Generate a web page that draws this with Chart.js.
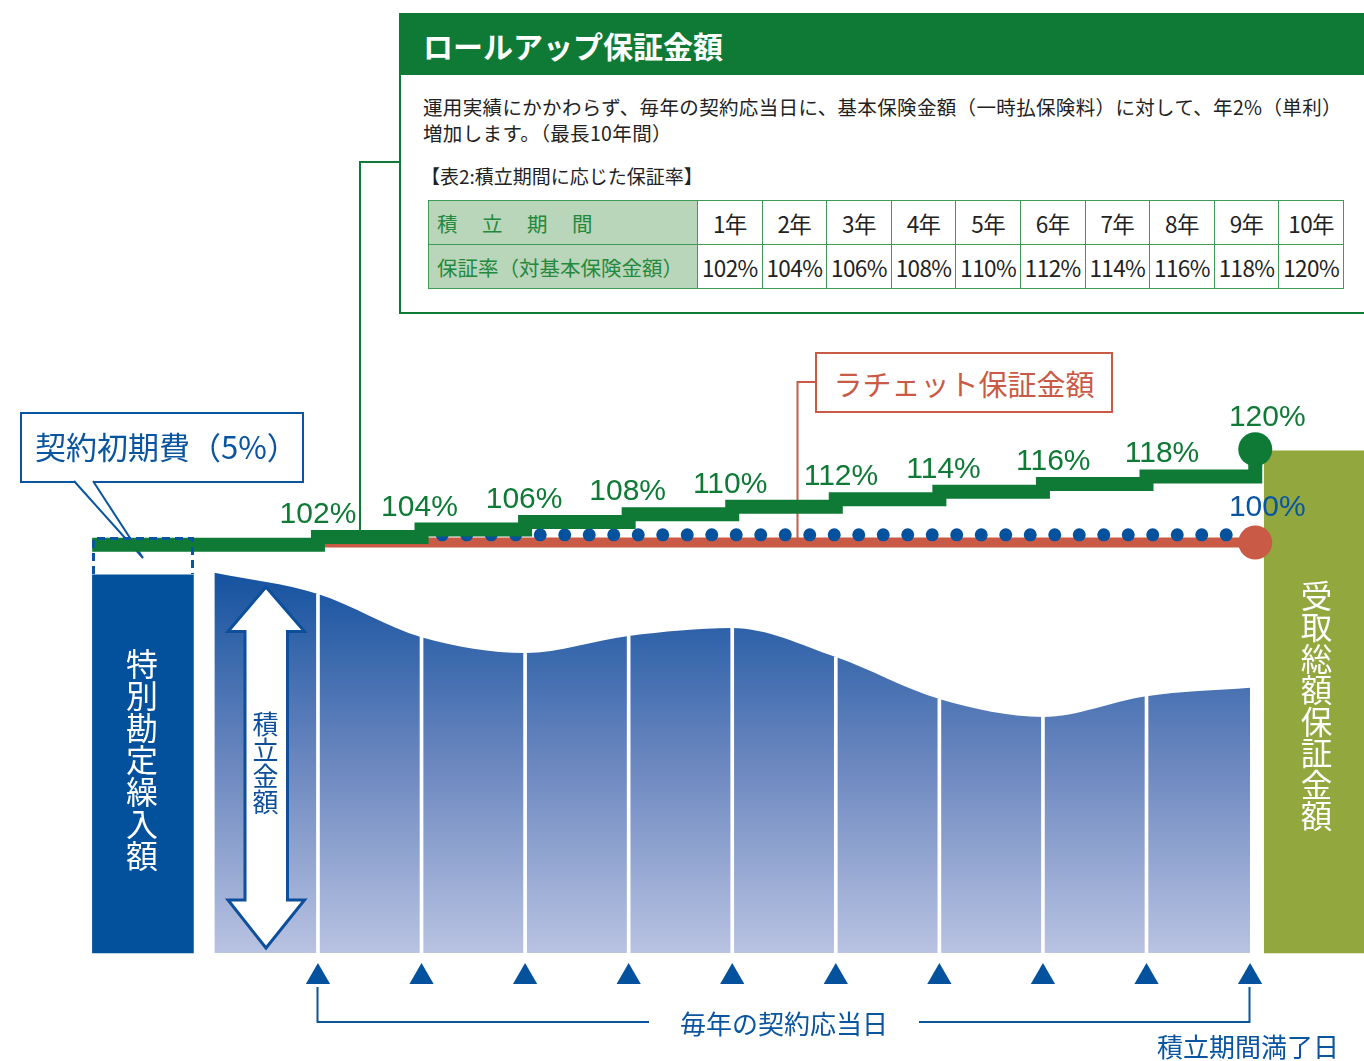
<!DOCTYPE html>
<html lang="ja">
<head>
<meta charset="utf-8">
<title>ロールアップ保証金額</title>
<script src="https://cdn.jsdelivr.net/npm/chart.js@4.4.1/dist/chart.umd.min.js"></script>
<style>
  html, body { margin:0; padding:0; background:#fff; }
  body { width:1364px; height:1061px; position:relative; overflow:hidden; font-family:"Noto Sans CJK JP", sans-serif; }
  #under, #over { position:absolute; left:0; top:0; }
  #under { z-index:0; }
  #chart { position:absolute; left:0; top:0; z-index:1; }
  #over { z-index:2; }
  .txt { position:absolute; z-index:3; white-space:nowrap; line-height:1; }
  .vtext { position:absolute; z-index:3; writing-mode:vertical-rl; line-height:1; white-space:nowrap; }
  #rollBox { position:absolute; left:399px; top:13px; width:980px; height:301px; box-sizing:border-box;
             border:2px solid #0e7a35; background:#fff; z-index:3; }
  #rollHead { position:absolute; left:0; top:0; right:0; height:60px; background:#0e7a35; }
  #rateTable { position:absolute; left:428px; top:200px; border-collapse:collapse; table-layout:fixed; width:915px; z-index:4; }
  #rateTable th, #rateTable td { border:1.5px solid #3f9c55; height:43px; padding:0; }
  #rateTable th { background:#b9d5ba; color:#23893c; font-weight:normal; text-align:left; padding-left:8px; font-size:20.5px; }
  #rateTable td { text-align:center; font-size:22.5px; color:#222; letter-spacing:-0.6px; }
  #ratchetBox { position:absolute; left:815px; top:352px; width:298px; height:61px; box-sizing:border-box;
                border:2px solid #c95a45; background:#fff; color:#c95a45; font-size:29px; z-index:3;
                display:flex; align-items:center; justify-content:center; }
</style>
</head>
<body>

<svg id="under" width="1364" height="1061">
  <polyline points="400,162 360,162 360,532" fill="none" stroke="#0e7a35" stroke-width="2"/>
  <polyline points="816,382 797.5,382 797.5,542" fill="none" stroke="#c95a45" stroke-width="2"/>
  <rect x="21" y="413" width="282" height="69" fill="#fff" stroke="#0a55a0" stroke-width="2"/>
  <polygon points="74,480 143,558 93,480" fill="#fff" stroke="none"/>
  <polyline points="74,481 143,558 93,481" fill="none" stroke="#0a55a0" stroke-width="2"/>
  <path d="M317.5,987 V1022 H649 M919,1022 H1249.5 V987" fill="none" stroke="#0a55a0" stroke-width="2"/>
</svg>

<canvas id="chart" width="1364" height="1061"></canvas>

<svg id="over" width="1364" height="1061">
  <path d="M93.5,574 V538.5 H192.5 V574" fill="none" stroke="#0a55a0" stroke-width="3" stroke-dasharray="8,5"/>
  <polygon points="266,587 304.5,631.5 287.5,631.5 287.5,900 304.5,900 266,948 228,900 245,900 245,631.5 228,631.5"
           fill="#fff" stroke="#0d4f9a" stroke-width="3"/>
</svg>

<div id="rollBox"><div id="rollHead"></div></div>
<div class="txt" style="left:423px; top:30px; font-size:30px; font-weight:bold; color:#fff;">ロールアップ保証金額</div>
<div class="txt" style="left:423px; top:97px; font-size:19.5px; color:#222; letter-spacing:0.35px;">運用実績にかかわらず、毎年の契約応当日に、基本保険金額（一時払保険料）に対して、年2%（単利）</div>
<div class="txt" style="left:423px; top:123px; font-size:19.5px; color:#222; letter-spacing:0.35px;">増加します。（最長10年間）</div>
<div class="txt" style="left:421px; top:166px; font-size:19px; color:#222;">【表2:積立期間に応じた保証率】</div>
<table id="rateTable"></table>

<div id="ratchetBox">ラチェット保証金額</div>
<div class="txt" style="left:35px; top:430px; font-size:31px; color:#0a55a0;">契約初期費（5%）</div>

<div class="vtext" style="left:126px; top:648px; font-size:32px; color:#fff;">特別勘定繰入額</div>
<div class="vtext" style="left:252px; top:711px; font-size:26px; color:#0d4f9a;">積立金額</div>
<div class="vtext" style="left:1300px; top:580px; font-size:31.5px; color:#fff;">受取総額保証金額</div>

<div class="txt" style="left:680px; top:1010px; font-size:26px; color:#0a55a0;">毎年の契約応当日</div>
<div class="txt" style="left:1157px; top:1033px; font-size:26px; color:#0a55a0;">積立期間満了日</div>

<script>
// --- data ---
const years = [0, 1, 2, 3, 4, 5, 6, 7, 8, 9, 10];
// fund value (積立金額), index: basic premium = 100
const fundValue = [91.6, 86.5, 76.1, 72.3, 76.4, 78.3, 71.3, 61.2, 56.9, 61.9, 63.9];
const transferYear = -0.69, transferAmount = 91.1;      // 特別勘定繰入額
const guaranteeYear = 10.62, guaranteeAmount = 121.0;   // 受取総額保証金額

// roll-up guarantee (green step line)
const rollupYears = [-1.18, 1, 2, 3, 4, 5, 6, 7, 8, 9, 10.05, 10.05];
const rollupRates = [100, 102, 104, 106, 108, 110, 112, 114, 116, 118, 118, 125.2];
const rollupLabelYears = [1, 1.98, 2.99, 3.99, 4.98, 6.05, 7.04, 8.1, 9.15];
const rollupLabels = ['102%', '104%', '106%', '108%', '110%', '112%', '114%', '116%', '118%'];
const endLabel = '120%';

// ratchet guarantee (red) and base 100% (blue dots)
const ratchetYears = [1.01, 10.05];
const ratchetLevel = [100.6, 100.6];
const baseYears = [2.2, 9.79];
const baseLevel = [102.6, 102.6];
const baseLabel = '100%';

// contract anniversaries (triangles)
const anniversaryYears = [1, 2, 3, 4, 5, 6, 7, 8, 9, 10];
const anniversaryMark = -5.8;

// table 2
const tablePeriods = ['1年', '2年', '3年', '4年', '5年', '6年', '7年', '8年', '9年', '10年'];
const tableRates = ['102%', '104%', '106%', '108%', '110%', '112%', '114%', '116%', '118%', '120%'];

const GREEN = '#0e7a35', RED = '#c95a45', BLUE = '#04519d', OLIVE = '#93a73f', BLUE_TXT = '#0a55a0';

// build table
const tbl = document.getElementById('rateTable');
let html = '<colgroup><col style="width:269px">' + tablePeriods.map(() => '<col style="width:64.6px">').join('') + '</colgroup>';
html += '<tr><th style="letter-spacing:2px">積　立　期　間</th>' + tablePeriods.map(p => '<td>' + p + '</td>').join('') + '</tr>';
html += '<tr><th>保証率（対基本保険金額）</th>' + tableRates.map(r => '<td>' + r + '</td>').join('') + '</tr>';
tbl.innerHTML = html;

const pts = (xs, ys) => xs.map((x, i) => ({ x: x, y: ys[i] }));

const labelPlugin = {
  id: 'pctLabels',
  afterDatasetsDraw(chart) {
    const ctx = chart.ctx, x = chart.scales.x, y = chart.scales.y;
    ctx.save();
    ctx.font = '30px "Liberation Sans", Arial, sans-serif';
    ctx.textAlign = 'center';
    ctx.fillStyle = GREEN;
    rollupLabels.forEach((t, i) => {
      ctx.fillText(t, x.getPixelForValue(rollupLabelYears[i]), y.getPixelForValue(rollupRates[i + 1]) - 14);
    });
    const last = rollupYears.length - 1;
    ctx.fillText(endLabel, x.getPixelForValue(rollupYears[last]) + 12, y.getPixelForValue(rollupRates[last]) - 23);
    ctx.fillStyle = BLUE_TXT;
    ctx.fillText(baseLabel, x.getPixelForValue(ratchetYears[1]) + 12, y.getPixelForValue(ratchetLevel[1]) - 26);
    ctx.restore();
  }
};

const fundGradient = (c) => {
  const chart = c.chart;
  if (!chart.chartArea) return null;
  const yf = chart.scales.yf;
  const g = chart.ctx.createLinearGradient(0, yf.getPixelForValue(Math.max(...fundValue)), 0, yf.getPixelForValue(0));
  g.addColorStop(0, '#15529f');
  g.addColorStop(0.5, '#6b87bf');
  g.addColorStop(1, '#b9c3e2');
  return g;
};

new Chart(document.getElementById('chart').getContext('2d'), {
  type: 'line',
  data: {
    datasets: [
      { // roll-up guarantee
        data: pts(rollupYears, rollupRates), yAxisID: 'y', stepped: true,
        borderColor: GREEN, borderWidth: 14, borderJoinStyle: 'miter', borderCapStyle: 'butt',
        pointRadius: rollupYears.map((v, i) => i === rollupYears.length - 1 ? 17 : 0),
        pointBackgroundColor: GREEN, pointBorderWidth: 0, fill: false
      },
      { // base 100% dotted
        data: pts(baseYears, baseLevel), yAxisID: 'y',
        borderColor: BLUE, borderWidth: 13, borderDash: [0, 24.5], borderCapStyle: 'round',
        pointRadius: 0, fill: false
      },
      { // ratchet guarantee
        data: pts(ratchetYears, ratchetLevel), yAxisID: 'y',
        borderColor: RED, borderWidth: 10, borderCapStyle: 'butt',
        pointRadius: [0, 17], pointBackgroundColor: RED, pointBorderWidth: 0, fill: false
      },
      { // anniversaries
        data: anniversaryYears.map(v => ({ x: v, y: anniversaryMark })), yAxisID: 'yf',
        showLine: false, pointStyle: 'triangle', pointRadius: 14,
        pointBackgroundColor: BLUE, pointBorderWidth: 0
      },
      { // year separators
        type: 'bar', yAxisID: 'yf', grouped: false, barThickness: 3,
        data: years.slice(1, 10).map(v => ({ x: v, y: fundValue[v] })),
        backgroundColor: '#ffffff', borderWidth: 0
      },
      { // fund value area
        data: pts(years, fundValue), yAxisID: 'yf', cubicInterpolationMode: 'monotone',
        borderWidth: 0, pointRadius: 0, fill: 'origin', backgroundColor: fundGradient
      },
      {
        type: 'bar', yAxisID: 'yf', grouped: false, barThickness: 101,
        data: [{ x: transferYear, y: transferAmount }], backgroundColor: '#03509c', borderWidth: 0
      },
      {
        type: 'bar', yAxisID: 'yf', grouped: false, barThickness: 100,
        data: [{ x: guaranteeYear, y: guaranteeAmount }], backgroundColor: OLIVE, borderWidth: 0
      }
    ]
  },
  options: {
    responsive: false,
    animation: false,
    layout: { padding: 0, autoPadding: false },
    plugins: { legend: { display: false }, tooltip: { enabled: false } },
    events: [],
    scales: {
      x: { type: 'linear', min: -2.070, max: 11.100, display: false, offset: false },
      y: { type: 'linear', min: -36.23, max: 243.72, display: false },
      yf: { type: 'linear', min: -26.02, max: 229.64, display: false }
    }
  },
  plugins: [labelPlugin]
});
</script>
</body>
</html>
